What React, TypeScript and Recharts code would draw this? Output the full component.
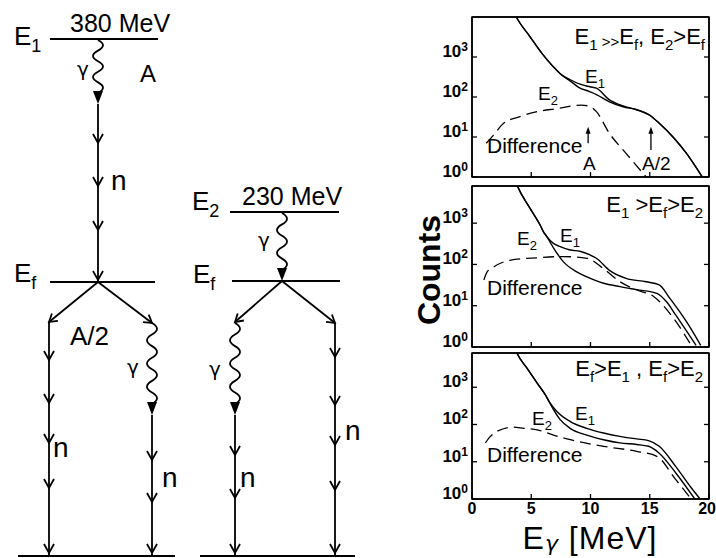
import React from "react";
import { LineChart, Line, XAxis, YAxis, ReferenceLine, ReferenceDot, ReferenceArea } from "recharts";

const FONT = '"Liberation Sans", Arial, Helvetica, sans-serif';
const GREEK = '"DejaVu Sans", "Liberation Sans", sans-serif';

// ---- spectra, [E_gamma (MeV), counts] ----
// panel 1: E1 >> Ef, E2 > Ef
const p1E1 = [
  [3.4, 16000], [3.8, 9300], [4.9, 3200], [5.9, 1230], [6.85, 575], [7.6, 355], [8.3, 270],
  [9.0, 215], [9.96, 180], [10.5, 166], [11.6, 85], [12.75, 60], [13.9, 48], [15.0, 35],
  [15.8, 22], [16.96, 10], [18.1, 3.9], [19.5, 0.93],
];
const p1E2 = [
  [3.4, 16000], [3.8, 9300], [4.9, 3200], [5.9, 1230], [6.85, 575], [7.6, 345], [8.3, 250],
  [9.0, 175], [9.96, 135], [10.5, 115], [11.6, 76], [12.75, 57], [13.9, 48], [15.0, 35],
  [15.8, 22], [16.96, 10], [18.1, 3.9], [19.5, 0.93],
];
const p1Diff = [
  [1.2, 7], [1.8, 11], [2.67, 22], [4.0, 32], [5.5, 43], [7.3, 52], [8.5, 60], [9.2, 63],
  [9.96, 58], [10.5, 43], [11.6, 12.3], [13.0, 3.9], [14.7, 1],
];

// panel 2: E1 > Ef > E2
const p2E1 = [
  [3.5, 14000], [3.8, 8300], [4.9, 2290], [5.76, 890], [6.03, 617], [6.3, 480], [6.87, 324],
  [7.44, 270], [8.28, 224], [9.1, 209], [9.96, 170], [10.5, 141], [11.6, 72], [13.0, 46],
  [14.7, 38], [15.8, 32], [16.7, 15], [18.1, 4.1], [19.3, 1.1],
];
const p2E2 = [
  [3.5, 14000], [3.8, 8300], [4.9, 2290], [5.76, 890], [6.03, 617], [6.3, 480], [6.9, 245],
  [7.7, 117], [8.84, 66], [9.7, 50], [11.1, 35], [12.5, 29], [13.9, 24.5], [15.6, 20],
  [16.4, 12.6], [17.2, 5.9], [18.9, 1.1],
];
const p2Diff = [
  [1.0, 42], [1.28, 66], [1.83, 87], [3.2, 126], [5.5, 145], [7.7, 155], [9.7, 141],
  [11.1, 79], [12.5, 38], [13.9, 24], [15.3, 17], [17.0, 5], [18.5, 1.1],
];

// panel 3: Ef > E1, Ef > E2
const p3E1 = [
  [3.5, 14000], [3.8, 8130], [4.64, 3240], [5.5, 1290], [6.18, 631], [6.6, 372], [7.16, 224],
  [8.3, 120], [9.68, 79], [11.1, 59], [12.48, 48], [13.9, 41], [14.9, 37], [15.8, 26],
  [17.2, 7.4], [18.4, 2.2], [19.2, 1.05],
];
const p3E2 = [
  [3.5, 14000], [3.8, 8130], [4.64, 3240], [5.5, 1290], [6.18, 631], [6.6, 360], [7.44, 135],
  [8.28, 79], [9.68, 52], [11.1, 39], [12.48, 32], [13.9, 29], [14.9, 26], [15.8, 17],
  [17.2, 5], [18.8, 1],
];
const p3Diff = [
  [1.13, 32], [1.55, 48], [2.1, 65], [3.5, 85], [4.37, 79], [5.5, 72], [6.87, 52], [8.3, 39],
  [11.1, 26], [13.9, 19], [15.6, 14], [17.2, 3.3], [18.5, 1],
];

const xTicks = [0, 5, 10, 15, 20];
const yTicks = [1, 10, 100, 1000];

// ---- level scheme (diagram units = page pixels) ----
const levels = [
  { x1: 50, x2: 158, y: 39 },   // E1
  { x1: 50, x2: 155, y: 282 },  // Ef (left)
  { x1: 230, x2: 339, y: 212 }, // E2
  { x1: 232, x2: 340, y: 281 }, // Ef (right)
  { x1: 18, x2: 175, y: 556 },
  { x1: 200, x2: 355, y: 556 },
];
const nLines = [
  { x: 98, y1: 104, y2: 282, marks: [143, 186, 230, 280] },
  { x: 49, y1: 322, y2: 556, marks: [360, 403, 443, 488, 553] },
  { x: 152, y1: 415, y2: 556, marks: [460, 502, 553] },
  { x: 235, y1: 415, y2: 556, marks: [455, 498, 553] },
  { x: 335, y1: 323, y2: 556, marks: [357, 405, 445, 490, 553] },
];
const gammas = [
  { x: 98, y1: 40, y2: 104 },
  { x: 282, y1: 213, y2: 281 },
  { x: 152, y1: 323, y2: 415 },
  { x: 235, y1: 323, y2: 415 },
];
const branches = [
  { x1: 98, y1: 282, x2: 49, y2: 322 },
  { x1: 98, y1: 282, x2: 152, y2: 323 },
  { x1: 282, y1: 281, x2: 235, y2: 322 },
  { x1: 282, y1: 281, x2: 335, y2: 323 },
];

const toPts = (arr: number[][]) => arr.map(([e, c]) => ({ e, c }));
const axisStyle = { stroke: "#000", strokeWidth: 1.5 };

function LeftTick({ x, y, payload }: any) {
  const exp = Math.round(Math.log10(payload.value));
  return (
    <g>
      <line x1={x} y1={y} x2={x + 5} y2={y} stroke="#000" strokeWidth={1.3} />
      <text x={x - 4} y={y} textAnchor="end" fontFamily={FONT} fontWeight="bold" fontSize={17} fill="#000">
        10<tspan dy={-6} fontSize={12}>{exp}</tspan>
      </text>
    </g>
  );
}
function RightTick({ x, y }: any) {
  return <line x1={x} y1={y} x2={x - 5} y2={y} stroke="#000" strokeWidth={1.3} />;
}
function TopTick({ x, y }: any) {
  return <line x1={x} y1={y} x2={x} y2={y + 5} stroke="#000" strokeWidth={1.3} />;
}
function BottomTick({ x, y, payload, labels }: any) {
  const last = payload.value === 20;
  return (
    <g>
      <line x1={x} y1={y} x2={x} y2={y - 5} stroke="#000" strokeWidth={1.3} />
      {labels && (
        <text x={last ? x + 7 : x} y={y + 15} textAnchor={last ? "end" : "middle"} fontFamily={FONT}
          fontWeight="bold" fontSize={16} fill="#000">
          {payload.value}
        </text>
      )}
    </g>
  );
}

function Panel({ top, plotH, yMax, e1, e2, diff, labels, children }: any) {
  const bottomH = labels ? 25 : 1;
  const h = plotH + 5 + (labels ? 25 : 5);
  const lineProps = {
    xAxisId: "b",
    yAxisId: "l",
    type: "monotone" as const,
    dataKey: "c",
    dot: false,
    isAnimationActive: false,
    stroke: "#000",
  };
  return (
    <div style={{ position: "absolute", left: 420, top: top - 5 }}>
      <LineChart width={296} height={h} margin={{ top: 4, right: 6, bottom: labels ? 0 : 4, left: 0 }}>
        <XAxis xAxisId="b" type="number" dataKey="e" domain={[0, 20]} ticks={xTicks} interval={0}
          height={bottomH} tickLine={false} tickSize={0} tickMargin={0} axisLine={axisStyle}
          tick={<BottomTick labels={labels} />} allowDataOverflow />
        <XAxis xAxisId="t" orientation="top" type="number" domain={[0, 20]} ticks={[5, 10, 15]} interval={0}
          height={1} tickLine={false} tickSize={0} tickMargin={0} axisLine={axisStyle} tick={<TopTick />} />
        <YAxis yAxisId="l" type="number" scale="log" domain={[1, yMax]} ticks={yTicks} interval={0}
          width={52} tickLine={false} tickSize={0} tickMargin={0} axisLine={axisStyle}
          tick={<LeftTick />} allowDataOverflow />
        <YAxis yAxisId="r" orientation="right" type="number" scale="log" domain={[1, yMax]} ticks={yTicks}
          interval={0} width={1} tickLine={false} tickSize={0} tickMargin={0} axisLine={axisStyle}
          tick={<RightTick />} allowDataOverflow />
        <ReferenceArea xAxisId="b" yAxisId="l" x1={0} x2={20} y1={1} y2={yMax} fill="none"
          stroke="#000" strokeWidth={1.5} ifOverflow="visible" />
        <Line {...lineProps} data={toPts(diff)} strokeWidth={1.3} strokeDasharray="11 6" />
        <Line {...lineProps} data={toPts(e2)} strokeWidth={1.4} />
        <Line {...lineProps} data={toPts(e1)} strokeWidth={1.4} />
        {children}
      </LineChart>
    </div>
  );
}

function wavyPath(x: number, y1: number, y2: number) {
  const end = y2 - 11;
  const n = Math.max(2, Math.round((end - y1) / 11));
  const step = (end - y1) / n;
  let d = `M${x},${y1}`;
  for (let i = 0; i < n; i++) {
    const s = i % 2 === 0 ? 1 : -1;
    const ya = y1 + step * i;
    d += ` Q${x + s * 10},${ya + step / 2} ${x},${ya + step}`;
  }
  return d;
}

function Wavy(props: any) {
  const { x1, y1, y2 } = props;
  return (
    <g>
      <path d={wavyPath(x1, y1, y2)} fill="none" stroke="#000" strokeWidth={1.8} />
      <path d={`M${x1 - 5},${y2 - 13} L${x1 + 5},${y2 - 13} L${x1},${y2} Z`} fill="#000" />
    </g>
  );
}

function Straight(props: any) {
  const { x1, y1, x2, y2 } = props;
  return <line x1={x1} y1={y1} x2={x2} y2={y2} stroke="#000" strokeWidth={1.8} />;
}

function ArrowLine(props: any) {
  const { x1, y1, x2, y2 } = props;
  const a = Math.atan2(y2 - y1, x2 - x1);
  const L = 9;
  const w = 0.55;
  const ax = x2 - L * Math.cos(a - w);
  const ay = y2 - L * Math.sin(a - w);
  const bx = x2 - L * Math.cos(a + w);
  const by = y2 - L * Math.sin(a + w);
  return (
    <g stroke="#000" strokeWidth={1.8} fill="none">
      <line x1={x1} y1={y1} x2={x2} y2={y2} />
      <path d={`M${ax},${ay} L${x2},${y2} L${bx},${by}`} />
    </g>
  );
}

function Chevron({ cx, cy }: any) {
  return <path d={`M${cx - 5},${cy - 9} L${cx},${cy} L${cx + 5},${cy - 9}`} fill="none" stroke="#000" strokeWidth={1.8} />;
}

function Diagram() {
  return (
    <div style={{ position: "absolute", left: 0, top: 0 }}>
      <LineChart width={400} height={558} margin={{ top: 0, right: 0, bottom: 0, left: 0 }}>
        <XAxis xAxisId="d" type="number" dataKey="x" domain={[0, 400]} hide />
        <YAxis yAxisId="d" type="number" domain={[0, 558]} reversed hide />
        {levels.map((lv, i) => (
          <Line key={`lv${i}`} xAxisId="d" yAxisId="d" data={[{ x: lv.x1, y: lv.y }, { x: lv.x2, y: lv.y }]}
            dataKey="y" type="linear" dot={false} stroke="#000" strokeWidth={2} isAnimationActive={false} />
        ))}
        {nLines.map((n, i) => (
          <ReferenceLine key={`n${i}`} xAxisId="d" yAxisId="d" segment={[{ x: n.x, y: n.y1 }, { x: n.x, y: n.y2 }]}
            shape={Straight} ifOverflow="visible" />
        ))}
        {nLines.flatMap((n, i) =>
          n.marks.map((m, j) => (
            <ReferenceDot key={`c${i}-${j}`} xAxisId="d" yAxisId="d" x={n.x} y={m} r={1} shape={Chevron} ifOverflow="visible" />
          ))
        )}
        {gammas.map((g, i) => (
          <ReferenceLine key={`g${i}`} xAxisId="d" yAxisId="d" segment={[{ x: g.x, y: g.y1 }, { x: g.x, y: g.y2 }]}
            shape={Wavy} ifOverflow="visible" />
        ))}
        {branches.map((b, i) => (
          <ReferenceLine key={`b${i}`} xAxisId="d" yAxisId="d" segment={[{ x: b.x1, y: b.y1 }, { x: b.x2, y: b.y2 }]}
            shape={ArrowLine} ifOverflow="visible" />
        ))}
      </LineChart>
    </div>
  );
}

// parts starting with "_" are subscripts, "~" marks a smaller glyph on the baseline
function Rich({ x, y, size, anchor = "start", parts, weight = "normal", subDrop = 0.28, spacing = 0 }: any) {
  let shift = 0;
  return (
    <text x={x} y={y} fontSize={size} textAnchor={anchor} fontFamily={FONT} fontWeight={weight}
      fill="#000" letterSpacing={spacing} style={{ whiteSpace: "pre" }}>
      {parts.map((p: string, i: number) => {
        const isSub = p.startsWith("_");
        const isSmall = p.startsWith("~");
        const txt = isSub || isSmall ? p.slice(1) : p;
        const target = isSub ? Math.round(size * subDrop) : isSmall ? Math.round(size * 0.12) : 0;
        const dy = target - shift;
        shift = target;
        const greek = /[γ]/.test(txt);
        return (
          <tspan key={i} dy={dy} fontSize={isSub || isSmall ? Math.round(size * 0.68) : size}
            fontFamily={greek ? GREEK : FONT} fontStyle={greek ? "italic" : "normal"}>
            {txt}
          </tspan>
        );
      })}
    </text>
  );
}

function Labels() {
  const T = (x: number, y: number, s: string, size: number) => (
    <text x={x} y={y} fontSize={size} fontFamily={FONT} fill="#000">{s}</text>
  );
  const G = (x: number, y: number) => (
    <text x={x} y={y} fontSize={20} fontFamily={GREEK} fill="#000">γ</text>
  );
  return (
    <svg width={716} height={558} style={{ position: "absolute", left: 0, top: 0, pointerEvents: "none" }}>
      {/* level scheme */}
      <Rich x={14} y={45} size={26} parts={["E", "_1"]} />
      {T(70, 32, "380 MeV", 25)}
      {G(77, 76)}
      {T(140, 82, "A", 24)}
      {T(111, 190, "n", 28)}
      <Rich x={14} y={282} size={26} parts={["E", "_f"]} />
      {T(70, 345, "A/2", 26)}
      {G(127, 374)}
      {T(53, 457, "n", 28)}
      {T(162, 487, "n", 28)}
      <Rich x={192} y={210} size={26} parts={["E", "_2"]} />
      {T(242, 205, "230 MeV", 25)}
      {G(258, 247)}
      <Rich x={193} y={283} size={26} parts={["E", "_f"]} />
      {G(209, 376)}
      {T(240, 487, "n", 28)}
      {T(345, 440, "n", 28)}

      {/* spectra */}
      <Rich x={705} y={44} size={22} anchor="end" parts={["E", "_1", "~ >>", "E", "_f", ", E", "_2", ">E", "_f"]} />
      <Rich x={585} y={83} size={19} parts={["E", "_1"]} />
      <Rich x={538} y={100} size={19} parts={["E", "_2"]} />
      {T(487, 153, "Difference", 21)}
      {T(583, 170, "A", 19)}
      {T(642, 170, "A/2", 19)}

      <Rich x={703} y={212} size={22} anchor="end" parts={["E", "_1", " >E", "_f", ">E", "_2"]} />
      <Rich x={517} y={245} size={19} parts={["E", "_2"]} />
      <Rich x={560} y={242} size={19} parts={["E", "_1"]} />
      {T(487, 295, "Difference", 21)}

      <Rich x={703} y={376} size={22} anchor="end" parts={["E", "_f", ">E", "_1", " , E", "_f", ">E", "_2"]} />
      <Rich x={532} y={425} size={19} parts={["E", "_2"]} />
      <Rich x={575} y={420} size={19} parts={["E", "_1"]} />
      {T(487, 462, "Difference", 21)}

      <text x={440} y={270} transform="rotate(-90 440 270)" textAnchor="middle" fontFamily={FONT}
        fontWeight="bold" fontSize={32} fill="#000">Counts</text>
      <Rich x={590} y={549} size={32} anchor="middle" parts={["E", "_γ", " [MeV]"]} subDrop={0.06} spacing={1} />
    </svg>
  );
}

function Arrow(props: any) {
  const { x1, y1, x2, y2 } = props;
  return (
    <g>
      <line x1={x1} y1={y1} x2={x2} y2={y2 + 6} stroke="#000" strokeWidth={1.3} />
      <path d={`M${x2 - 2.5},${y2 + 7} L${x2 + 2.5},${y2 + 7} L${x2},${y2} Z`} fill="#000" />
    </g>
  );
}

export default function App() {
  return (
    <div style={{ position: "absolute", left: 0, top: 0, width: 716, height: 558, background: "#fff" }}>
      <Diagram />
      <Panel top={17} plotH={160} yMax={10000} e1={p1E1} e2={p1E2} diff={p1Diff}>
        <ReferenceLine xAxisId="b" yAxisId="l" segment={[{ x: 9.8, y: 7 }, { x: 9.8, y: 18 }]} shape={Arrow} />
        <ReferenceLine xAxisId="b" yAxisId="l" segment={[{ x: 15.1, y: 4.7 }, { x: 15.1, y: 18 }]} shape={Arrow} />
      </Panel>
      <Panel top={186} plotH={161} yMax={7943} e1={p2E1} e2={p2E2} diff={p2Diff} />
      <Panel top={353} plotH={146} yMax={8300} e1={p3E1} e2={p3E2} diff={p3Diff} labels />
      <Labels />
    </div>
  );
}
